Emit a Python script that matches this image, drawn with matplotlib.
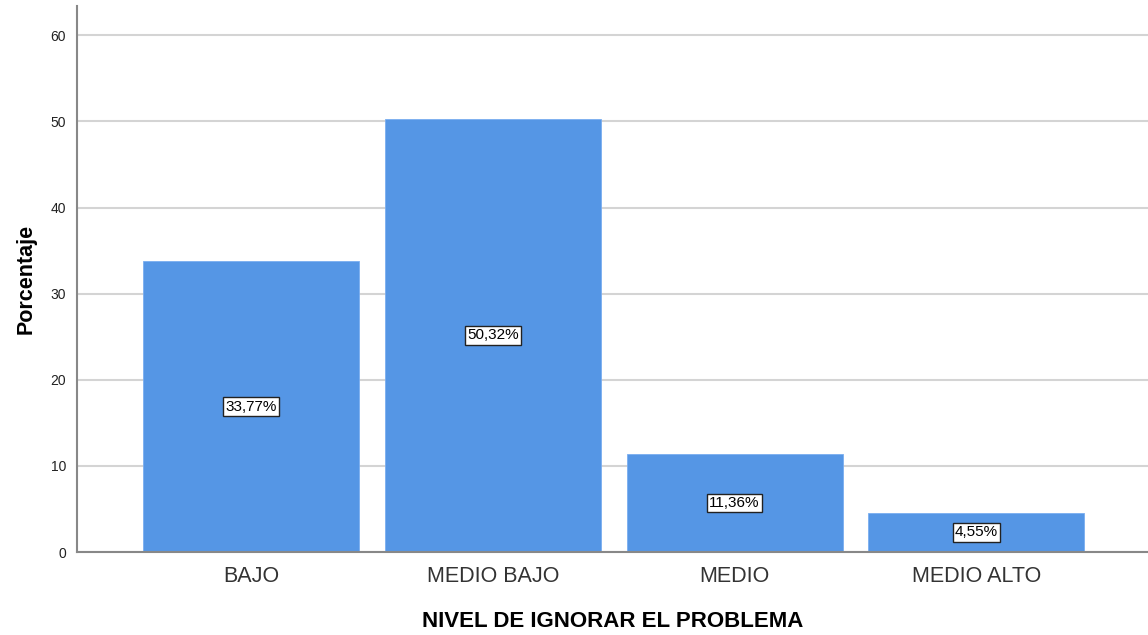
import matplotlib
matplotlib.use('Agg')
import matplotlib.pyplot as plt

categorias = ['BAJO', 'MEDIO BAJO', 'MEDIO', 'MEDIO ALTO']
porcentajes = [33.77, 50.32, 11.36, 4.55]
etiquetas = ['33,77%', '50,32%', '11,36%', '4,55%']
yticks = [0, 10, 20, 30, 40, 50, 60]

plt.rcParams['font.family'] = ['Liberation Sans', 'DejaVu Sans']

fig = plt.figure(figsize=(11.48, 6.35), dpi=100)
ax = fig.add_axes([0.0671, 0.1307, 0.9329, 0.8599])
ax.set_axisbelow(True)
ax.grid(axis='y', color='#d4d4d4', linewidth=1.5)

x = range(len(categorias))
ax.bar(x, porcentajes, width=0.894, color='#5596e5', edgecolor='#7aaef0', linewidth=0.6)
for xi, v, t in zip(x, porcentajes, etiquetas):
    ax.text(xi, v / 2, t, ha='center', va='center', fontsize=11, color='black',
            bbox=dict(boxstyle='square,pad=0.15', facecolor='white', edgecolor='#222222', linewidth=1))

ax.set_xlim(-0.72, 3.71)
ax.set_ylim(0, 63.4)
ax.set_yticks(yticks)
ax.set_xticks(list(x))
ax.set_xticklabels(categorias, fontsize=15.5, color='#333333')
ax.tick_params(axis='y', length=0, labelsize=10, pad=8, labelcolor='#222222')
ax.tick_params(axis='x', length=0, pad=10)

for s in ['top', 'right']:
    ax.spines[s].set_visible(False)
for s in ['left', 'bottom']:
    ax.spines[s].set_color('#888888')
    ax.spines[s].set_linewidth(1.5)

ax.set_ylabel('Porcentaje', fontsize=15.5, fontweight='bold', labelpad=10)
ax.set_xlabel('NIVEL DE IGNORAR EL PROBLEMA', fontsize=16, fontweight='bold', labelpad=17)

fig.savefig('out.png', dpi=100)
